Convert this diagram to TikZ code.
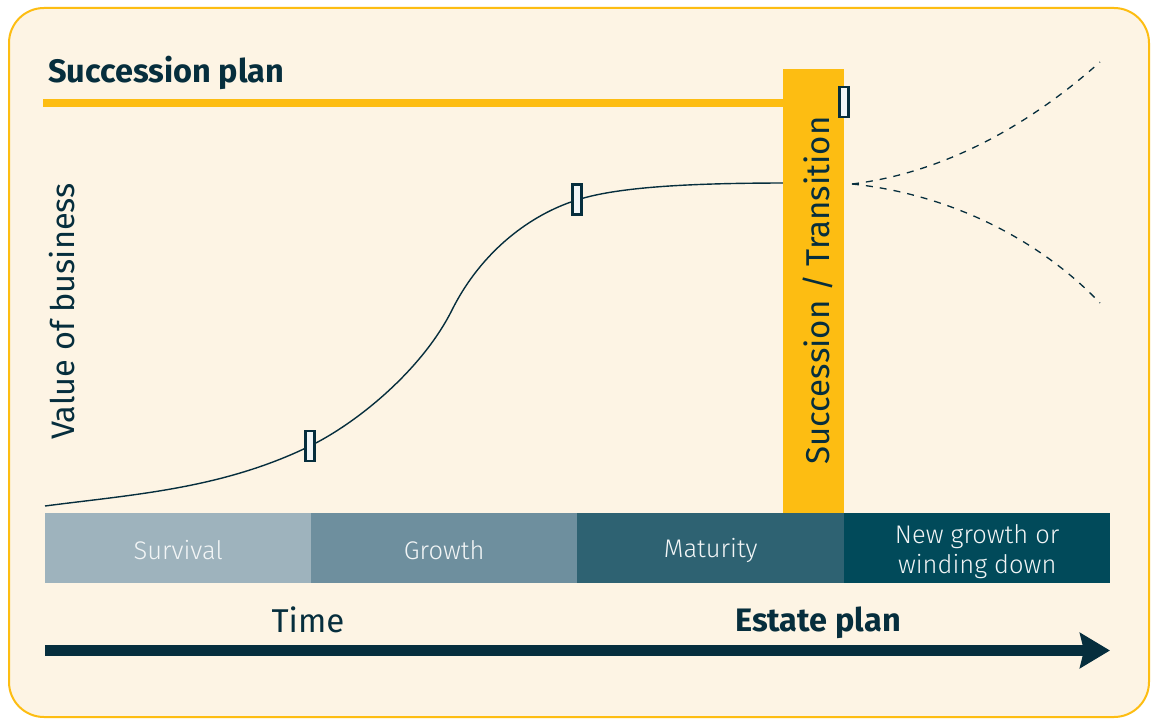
\documentclass[tikz,border=0pt]{standalone}
\usepackage{fontspec}
\setmainfont{Fira Sans}
\newfontfamily\lightfont{Fira Sans Light}
\usetikzlibrary{arrows.meta}
\definecolor{creamc}{HTML}{FDF4E4}
\definecolor{yellowc}{HTML}{FDBD12}
\definecolor{navyc}{HTML}{062E3D}
\definecolor{segA}{HTML}{9EB3BD}
\definecolor{segB}{HTML}{6E8F9E}
\definecolor{segC}{HTML}{2E6272}
\definecolor{segD}{HTML}{014A5A}
\definecolor{bandtext}{HTML}{F2F5F6}
\definecolor{markfill}{HTML}{F2F6F7}
\begin{document}
\begin{tikzpicture}[x=1pt,y=-1pt,
  seg/.style={rectangle, inner sep=0pt, minimum height=70pt, anchor=north west},
  bandlbl/.style={inner sep=0pt, text=bandtext, font=\lightfont\fontsize{25.5}{30}\selectfont, align=center},
  marker/.style={rectangle, draw=navyc, line width=2.2pt, fill=markfill, minimum width=9pt, minimum height=30pt, inner sep=0pt},
  title/.style={text=navyc, inner sep=0pt},
  curveline/.style={draw=navyc, line width=1.4pt},
  dashline/.style={draw=navyc, line width=1.3pt, dash pattern=on 7pt off 7pt}]
\useasboundingbox (0,0) rectangle (1152,719);
\fill[white] (0,0) rectangle (1152,719);
\draw[yellowc, line width=2pt, fill=creamc, rounded corners=35pt] (9,8) rectangle (1149,717);

% title
\node[title, anchor=base west, font=\bfseries\fontsize{32.5}{38}\selectfont] (sp) at (48,83) {Succession plan};
\coordinate (hl0) at (43,103);
\coordinate (hl1) at (790,103);
\draw[yellowc, line width=8pt] (hl0) -- (hl1);

% curve
\coordinate (c0) at (45,506);
\coordinate (c1) at (310,446);
\coordinate (c2) at (452,310);
\coordinate (c3) at (577,200);
\coordinate (c4) at (790,183);
\draw[curveline] (c0) .. controls (133,494.5) and (222,489) .. (c1)
  .. controls (357,423) and (422,370) .. (c2)
  .. controls (482,250) and (532,214) .. (c3)
  .. controls (620,186) and (700,183) .. (c4);

% vertical bar
\fill[yellowc] (783,69) rectangle (844,513);
\node[title, rotate=90, font=\fontsize{33}{38}\selectfont] (st) at (818,290.5) {Succession / Transition};

% dashed
\coordinate (d0) at (852,184);
\coordinate (dU) at (1100,62);
\coordinate (dL) at (1100,303);
\draw[dashline] (d0) .. controls (950,172) and (1035,120) .. (dU);
\draw[dashline] (d0) .. controls (950,194) and (1040,240) .. (dL);

% markers
\node[marker] (m1) at (c1) {};
\node[marker] (m2) at (577,199.5) {};
\node[marker] (m3) at (844,102) {};

% y label
\node[title, rotate=90, font=\fontsize{32.5}{38}\selectfont] (vb) at (62,311.5) {Value of business};

% band
\node[seg, fill=segA, minimum width=266pt] (s1) at (45,513) {};
\node[seg, fill=segB, minimum width=266pt] (s2) at (311,513) {};
\node[seg, fill=segC, minimum width=267pt] (s3) at (577,513) {};
\node[seg, fill=segD, minimum width=266pt] (s4) at (844,513) {};
\node[bandlbl, yshift=-2pt] (l1) at (s1.center) {Survival};
\node[bandlbl, yshift=-2pt] (l2) at (s2.center) {Growth};
\node[bandlbl, yshift=-2pt] (l3) at (s3.center) {Maturity};
\node[bandlbl, yshift=-3.5pt] (l4) at (s4.center) {New growth or\\winding down};

% bottom labels
\node[title, anchor=base, font=\fontsize{33}{38}\selectfont] (tm) at (308,632) {Time};
\node[title, anchor=base, font=\bfseries\fontsize{32.5}{38}\selectfont] (ep) at (818,631) {Estate plan};

% arrow
\coordinate (a0) at (45,650.5);
\coordinate (a1) at (1110,650.5);
\draw[navyc, line width=11pt, -{Stealth[length=30pt, width=35pt, inset=4pt]}] (a0) -- (a1);
\end{tikzpicture}
\end{document}
